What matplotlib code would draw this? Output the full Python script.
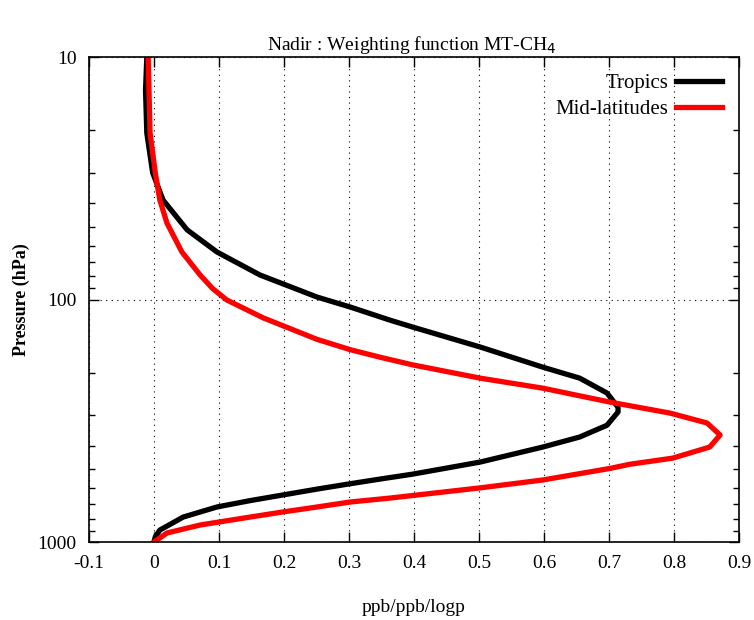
import numpy as np
import matplotlib.pyplot as plt
from matplotlib.ticker import FixedLocator, LogLocator, NullFormatter

plt.rcParams['font.family'] = ['Liberation Serif', 'DejaVu Serif']

# Tropics weighting function (x: ppb/ppb/logp, p: hPa)
trop_x = [-0.011, -0.013, -0.011, -0.002, 0.014, 0.051, 0.097, 0.163, 0.251, 0.302,
          0.363, 0.398, 0.502, 0.598, 0.655, 0.697, 0.714, 0.714, 0.697, 0.655,
          0.598, 0.502, 0.398, 0.348, 0.302, 0.251, 0.198, 0.148, 0.097, 0.045,
          0.009, 0.002, 0.0]
trop_p = [10, 13.7, 20.6, 30.0, 38.9, 51.6, 63.7, 79.2, 97.7, 107.4,
          121.6, 129.9, 157, 190, 211, 243, 278, 291, 330, 369,
          406, 468, 525, 550, 575, 605, 640, 675, 717, 789,
          893, 953, 1000]

# Mid-latitudes weighting function
mid_x = [-0.009, -0.006, 0.002, 0.009, 0.020, 0.043, 0.071, 0.090, 0.112, 0.168,
         0.251, 0.302, 0.348, 0.398, 0.502, 0.598, 0.702, 0.794, 0.851, 0.871,
         0.855, 0.798, 0.732, 0.702, 0.598, 0.502, 0.363, 0.302, 0.251, 0.198,
         0.148, 0.071, 0.020, 0.0]
mid_p = [10, 20.6, 30, 38.9, 48.4, 63.7, 79.2, 90, 100.4, 119,
         146, 161, 173, 186, 211, 232, 265, 294, 323, 362,
         406, 451, 478, 497, 555, 598, 659, 684, 717, 752,
         789, 851, 918, 1000]

xticks = np.round(np.arange(-0.1, 0.91, 0.1), 1)
xlabels = ["-0.1", "0", "0.1", "0.2", "0.3", "0.4", "0.5", "0.6", "0.7", "0.8", "0.9"]

fig = plt.figure(figsize=(7.54, 6.2), dpi=100)
ax = fig.add_axes([0.118, 0.1258, 0.862, 0.7822])

ax.plot(trop_x, trop_p, color="black", lw=3.8, label="Tropics")
ax.plot(mid_x, mid_p, color="#ff0000", lw=3.8, label="Mid-latitudes")

ax.set_yscale("log")
ax.set_ylim(1000, 10)
ax.set_xlim(-0.1, 0.9)
ax.set_xticks(xticks)
ax.set_xticklabels(xlabels)
ax.yaxis.set_major_locator(FixedLocator([10, 100, 1000]))
ax.set_yticklabels(["10", "100", "1000"])
ax.yaxis.set_minor_locator(LogLocator(base=10, subs=np.arange(2, 10)))
ax.yaxis.set_minor_formatter(NullFormatter())

ax.tick_params(which="both", direction="in", top=True, right=True, labelsize=14)
ax.tick_params(which="major", length=7, width=1, pad=9)
ax.tick_params(which="minor", length=4, width=1)
ax.grid(True, which="major", linestyle=(0, (1, 4)), color="black", lw=0.8)

for s in ax.spines.values():
    s.set_linewidth(1.2)

ax.set_xlabel("ppb/ppb/logp", fontsize=14, labelpad=20)
ax.set_ylabel("Pressure (hPa)", fontsize=13, fontweight="bold", labelpad=5)
fig.text(0.546, 0.927, "Nadir : Weighting function MT-CH$_4$", fontsize=14,
         ha="center", va="center")

leg = ax.legend(loc="upper right", frameon=False, markerfirst=False, fontsize=15,
                handlelength=2.2, handletextpad=0.4, borderaxespad=0.4,
                labelspacing=0.3)

fig.savefig("out.png", dpi=100)
plt.close(fig)
